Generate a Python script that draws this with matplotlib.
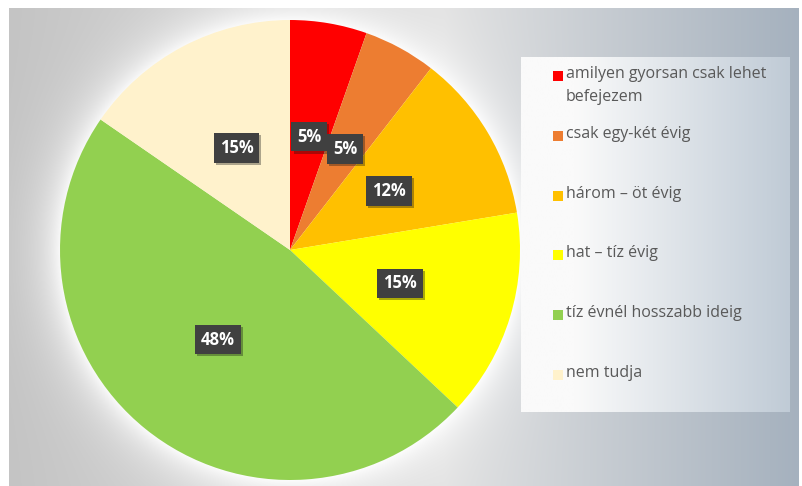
import numpy as np
import matplotlib
matplotlib.use('Agg')
import matplotlib.pyplot as plt
import matplotlib.patches as mpatches
import matplotlib.patheffects as pe

# data
categories = ['amilyen gyorsan csak lehet\nbefejezem', 'csak egy-két évig', 'három – öt évig',
              'hat – tíz évig', 'tíz évnél hosszabb ideig', 'nem tudja']
shares = [5.4, 5.1, 11.9, 14.6, 47.6, 15.4]
colors = ['#FF0000', '#ED7D31', '#FFC000', '#FFFF00', '#92D050', '#FFF2CC']

W, H = 803, 486
fig = plt.figure(figsize=(W / 100, H / 100), dpi=100)
fig.patch.set_facecolor('white')

# background gradient with white glow around the pie
cx, cy, R = 290, 250, 230
bx0, bx1, by0, by1 = 9, 799, 8, 486
xs = np.arange(bx0, bx1)
ys = np.arange(by0, by1)
X, Y = np.meshgrid(xs, ys)
t = (X - bx0) / (bx1 - bx0)
left = np.array([196, 196, 196]) / 255
mid = np.array([226, 226, 226]) / 255
right = np.array([165, 177, 190]) / 255
base = np.zeros(X.shape + (3,))
for k in range(3):
    base[..., k] = np.where(t < 0.55, left[k] + (mid[k] - left[k]) * (t / 0.55),
                            mid[k] + (right[k] - mid[k]) * ((t - 0.55) / 0.45))
d = np.hypot(X - cx, Y - cy)
glow = np.clip(np.exp(-(d - R) / 22.0), 0, 1) * 0.9
img = base * (1 - glow[..., None]) + glow[..., None]

bg = fig.add_axes([bx0 / W, 0, (bx1 - bx0) / W, (by1 - by0) / H])
bg.imshow(img, aspect='auto', interpolation='bilinear')
bg.axis('off')

# legend box
lx0, lx1, ly0, ly1 = 521, 790, 57, 412
lxs = np.linspace(0, 1, 200)
lrow = np.zeros((1, 200, 3))
c0 = np.array([250, 250, 250]) / 255
c1 = np.array([192, 203, 214]) / 255
for k in range(3):
    lrow[0, :, k] = np.where(lxs < 0.2, c0[k], c0[k] + (c1[k] - c0[k]) * (lxs - 0.2) / 0.8)
lg = fig.add_axes([lx0 / W, 1 - ly1 / H, (lx1 - lx0) / W, (ly1 - ly0) / H])
lg.imshow(lrow, aspect='auto', extent=[0, 1, 0, 1], interpolation='bilinear')
lg.set_xlim(0, 1)
lg.set_ylim(0, 1)
lg.axis('off')

# pie
ax = fig.add_axes([(cx - R) / W, 1 - (cy + R) / H, 2 * R / W, 2 * R / H])
wedges, texts, autotexts = ax.pie(shares, colors=colors, startangle=90, counterclock=False,
                                  autopct='%1.0f%%', pctdistance=0.5,
                                  wedgeprops=dict(linewidth=0))
for at in autotexts:
    at.set_color('white')
    at.set_fontsize(12)
    at.set_fontweight('bold')
    at.set_fontfamily('Open Sans')
    at.set_bbox(dict(boxstyle='square,pad=0.35', facecolor='#404040', edgecolor='none',
                     path_effects=[pe.SimplePatchShadow(offset=(1.5, -1.5), alpha=0.35),
                                   pe.Normal()]))
ax.set_xlim(-1, 1)
ax.set_ylim(-1, 1)

# manual legend to match spacing
for i, (lab, col) in enumerate(zip(categories, colors)):
    y = 76 + 59.8 * i
    fig.patches.append(mpatches.Rectangle((553 / W, 1 - (y + 5) / H), 10 / W, 10 / H,
                                          transform=fig.transFigure, facecolor=col,
                                          edgecolor='none', figure=fig))
    fig.text(566 / W, 1 - (y - 10) / H, lab, fontsize=11.5, color='#595959', va='top',
             ha='left', family='Open Sans', linespacing=1.6)

plt.savefig('out.png', dpi=100)
